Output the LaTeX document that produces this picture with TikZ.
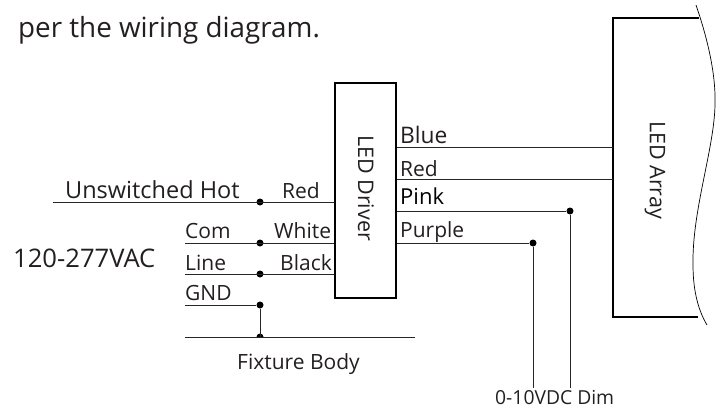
\documentclass[tikz,border=0pt]{standalone}
\usepackage{fontspec}
\setmainfont{Open Sans}
\definecolor{ink}{HTML}{231F20}
\usetikzlibrary{positioning}
\newcommand{\fsz}[1]{\fontsize{#1}{#1}\selectfont}

\begin{document}
\begin{tikzpicture}
		[x=1pt,y=-1pt,
		box/.style={rectangle,draw=black,thick,line width=1.8pt,inner sep=0pt},
		wire/.style={draw=black!85,line width=1pt},
		dot/.style={circle,fill=black,inner sep=0pt,minimum size=7pt},
		label/.style={anchor=base west,inner sep=0pt,text=ink,font=\fsz{21.5}},
		small/.style={anchor=base west,inner sep=0pt,text=ink,font=\fsz{21}}]
		\useasboundingbox (0,0) rectangle (717,409);

		\node [label,font=\fsz{27.8}] (intro) at (18,38) {per the wiring diagram.};

		\node [box,minimum width=61pt,minimum height=215pt] (driver) at (365.5,190.5) {};
		\node [label,anchor=center,rotate=-90] (drivertxt) at (366,188) {LED Driver};

		\coordinate (nw) at (613,18);
		\coordinate (sw) at (613,317);
		\coordinate (ne) at (699,18);
		\coordinate (se) at (698,317);
		\draw [line width=1.8pt] (ne) -- (nw) -- (sw) -- (se);
		\draw [line width=0.7pt] (696,5) .. controls (708,40) and (716,75) .. (715,105)
			.. controls (714,150) and (692,210) .. (693,265)
			.. controls (693,290) and (698,310) .. (707,325);
		\node [label,anchor=center,rotate=-90] (arraytxt) at (655,170) {LED Array};

		\coordinate (hotend) at (53,202);
		\coordinate (comend) at (185,243);
		\coordinate (lineend) at (185,274);
		\coordinate (gndend) at (185,305);
		\coordinate (bodyl) at (185,337);
		\coordinate (bodyr) at (415,337);
		\node [dot] (hot) at (260,202) {};
		\node [dot] (com) at (260,243) {};
		\node [dot] (linedot) at (260,274) {};
		\node [dot] (gnd) at (260,305) {};
		\coordinate (bodyj) at (260,337);
		\begin{scope}
			\clip (250,327) rectangle (270,337);
			\node [dot] (body) at (bodyj) {};
		\end{scope}

		\draw [wire] (hotend) -- (driver.west |- hot);
		\draw [wire] (comend) -- (driver.west |- com);
		\draw [wire] (lineend) -- (driver.west |- linedot);
		\draw [wire] (gndend) -- (gnd);
		\draw [wire] (gnd) -- (bodyj);
		\draw [wire] (bodyl) -- (bodyr);

		\coordinate (bluein) at (613,147);
		\coordinate (redin) at (613,179);
		\node [dot] (pink) at (570,211) {};
		\node [dot] (purple) at (533,243) {};
		\coordinate (pinkend) at (570,388);
		\coordinate (purpleend) at (533,388);
		\draw [wire] (driver.east |- bluein) -- (bluein);
		\draw [wire] (driver.east |- redin) -- (redin);
		\draw [wire] (driver.east |- pink) -- (pink);
		\draw [wire] (driver.east |- purple) -- (purple);
		\draw [wire] (pink) -- (pinkend);
		\draw [wire] (purple) -- (purpleend);

		\node [label,font=\fsz{23.5}] (hottxt) at (65,198) {Unswitched Hot};
		\node [small] (redl) at (282,198) {Red};
		\node [small] (comtxt) at (185,238) {Com};
		\node [small] (whitetxt) at (274,238) {White};
		\node [small] (linetxt) at (185,270) {Line};
		\node [small] (blacktxt) at (280,270) {Black};
		\node [small] (gndtxt) at (185,300) {GND};
		\node [label,font=\fsz{25.6}] (volts) at (13,267) {120-277VAC};
		\node [small] (bodytxt) at (237,369) {Fixture Body};

		\node [small,font=\fsz{22.8}] (bluetxt) at (400,143) {Blue};
		\node [small] (redr) at (400,176) {Red};
		\node [small,text=black,font=\fsz{22}] (pinktxt) at (400,204) {Pink};
		\node [small] (purpletxt) at (400,237) {Purple};
		\node [small,font=\fsz{19.3}] (dimtxt) at (495,404) {0-10VDC Dim};
	\end{tikzpicture}
\end{document}
